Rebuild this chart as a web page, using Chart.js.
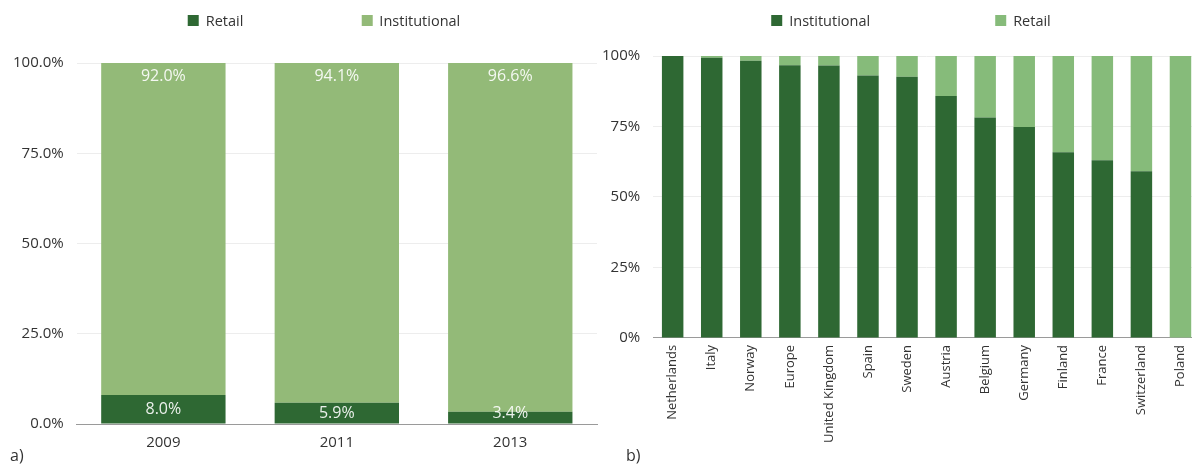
<!DOCTYPE html>
<html>
<head>
<meta charset="utf-8">
<script src="https://cdn.jsdelivr.net/npm/chart.js@4.4.1/dist/chart.umd.min.js"></script>
<style>
  html, body { margin: 0; padding: 0; background: #fff; overflow: hidden; }
  body { width: 1192px; height: 465px; position: relative; font-family: "Open Sans", sans-serif; color: #333; }
  .box { position: absolute; top: 0; }
  #boxA { left: 0; width: 648px; height: 465px; }
  #boxB { left: 587px; width: 635px; height: 465px; }
  .legend { position: absolute; top: 11px; display: flex; transform: translateX(-50%); font-size: 14.5px; white-space: nowrap; }
  .legend .item { display: flex; align-items: center; }
  .legend .swatch { width: 11px; height: 11px; margin-right: 7px; }
  .panel { position: absolute; top: 444px; font-size: 16px; }
</style>
</head>
<body>
<div class="box" id="boxA"><canvas id="shareChart"></canvas></div>
<div class="box" id="boxB"><canvas id="countryChart"></canvas></div>
<div class="legend" id="legendA" style="left:324px; gap:118px;"></div>
<div class="legend" id="legendB" style="left:911px; gap:125px;"></div>
<div class="panel" style="left:10px;">a)</div>
<div class="panel" style="left:626px;">b)</div>

<script>
// Data
const years = ['2009', '2011', '2013'];
const retailShare = [8.0, 5.9, 3.4];
const institutionalShare = [92.0, 94.1, 96.6];

const countries = ['Netherlands', 'Italy', 'Norway', 'Europe', 'United Kingdom', 'Spain', 'Sweden',
    'Austria', 'Belgium', 'Germany', 'Finland', 'France', 'Switzerland', 'Poland'];
const countryInstitutional = [100, 99.4, 98.3, 96.7, 96.6, 93.1, 92.6, 85.8, 78.2, 74.8, 65.9, 63.0, 59.1, 0];
const countryRetail = [0, 0.6, 1.7, 3.3, 3.4, 6.9, 7.4, 14.2, 21.8, 25.2, 34.1, 37.0, 40.9, 100];

const yTicks = [0, 25, 50, 75, 100];

const darkGreen = '#2e6833';
const lightGreenA = '#93ba78';
const lightGreenB = '#86bb7a';
const fontFamily = '"Open Sans", sans-serif';

// values written on the bars of the left chart
const barValueLabels = {
    id: 'barValueLabels',
    afterDatasetsDraw(chart) {
        const ctx = chart.ctx;
        ctx.save();
        ctx.font = '16px ' + fontFamily;
        ctx.fillStyle = 'rgba(255, 255, 255, 0.9)';
        ctx.textAlign = 'center';
        ctx.textBaseline = 'middle';
        chart.data.datasets.forEach((ds, i) => {
            chart.getDatasetMeta(i).data.forEach((bar, j) => {
                let y;
                if (i === 0) {
                    y = Math.min((bar.y + bar.base) / 2, bar.base - 10);
                } else {
                    y = bar.y + 13;
                }
                ctx.fillText(ds.data[j].toFixed(1) + '%', bar.x, y);
            });
        });
        ctx.restore();
    }
};

function buildLegend(el, datasets) {
    datasets.forEach(ds => {
        const item = document.createElement('div');
        item.className = 'item';
        const sw = document.createElement('span');
        sw.className = 'swatch';
        sw.style.background = ds.backgroundColor;
        const txt = document.createElement('span');
        txt.textContent = ds.label;
        item.appendChild(sw);
        item.appendChild(txt);
        el.appendChild(item);
    });
}

function axes(tickFmt, tickFont) {
    return {
        x: {
            stacked: true,
            grid: { display: false, drawTicks: false },
            border: { color: '#9a9a9a' },
            ticks: { color: '#333', font: { family: fontFamily, size: tickFont }, padding: 10 }
        },
        y: {
            stacked: true,
            min: 0,
            max: 100,
            afterBuildTicks: axis => { axis.ticks = yTicks.map(v => ({ value: v })); },
            grid: { color: '#ededed', drawTicks: false },
            border: { display: false },
            ticks: { color: '#333', font: { family: fontFamily, size: 15 }, padding: 13, callback: tickFmt }
        }
    };
}

// a) share by year
const shareData = {
    labels: years,
    datasets: [
        { label: 'Retail', data: retailShare, backgroundColor: darkGreen },
        { label: 'Institutional', data: institutionalShare, backgroundColor: lightGreenA }
    ]
};

new Chart(document.getElementById('shareChart'), {
    type: 'bar',
    data: shareData,
    options: {
        responsive: true,
        maintainAspectRatio: false,
        animation: false,
        layout: { padding: { left: 0, right: 51, top: 63, bottom: 3 } },
        datasets: { bar: { categoryPercentage: 1, barPercentage: 0.717 } },
        plugins: { legend: { display: false }, tooltip: { enabled: false } },
        scales: axes(v => v.toFixed(1) + '%', 15)
    },
    plugins: [barValueLabels]
});

// b) share by country
const countryData = {
    labels: countries,
    datasets: [
        { label: 'Institutional', data: countryInstitutional, backgroundColor: darkGreen },
        { label: 'Retail', data: countryRetail, backgroundColor: lightGreenB }
    ]
};

const countryScales = axes(v => v + '%', 13);
countryScales.x.ticks.minRotation = 90;
countryScales.x.ticks.maxRotation = 90;
countryScales.x.ticks.padding = 7;

new Chart(document.getElementById('countryChart'), {
    type: 'bar',
    data: countryData,
    options: {
        responsive: true,
        maintainAspectRatio: false,
        animation: false,
        layout: { padding: { left: 2, right: 22, top: 56, bottom: 15 } },
        datasets: { bar: { categoryPercentage: 1, barPercentage: 0.55 } },
        plugins: { legend: { display: false }, tooltip: { enabled: false } },
        scales: countryScales
    }
});

buildLegend(document.getElementById('legendA'), shareData.datasets);
buildLegend(document.getElementById('legendB'), countryData.datasets);
</script>
</body>
</html>
